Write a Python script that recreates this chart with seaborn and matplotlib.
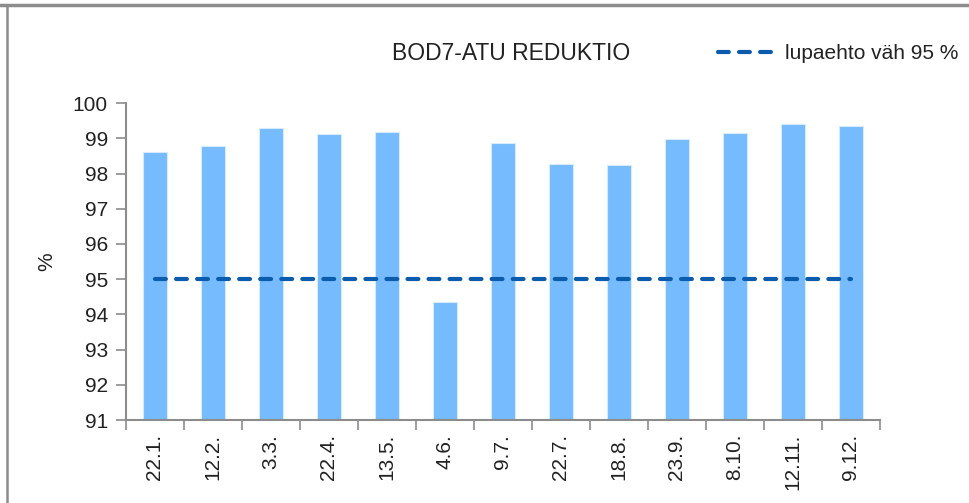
import numpy as np
import pandas as pd
import matplotlib
matplotlib.use("Agg")
import matplotlib.pyplot as plt
from matplotlib.lines import Line2D
import seaborn as sns

# sampling dates and BOD7-ATU reduction (%)
dates = ['22.1.', '12.2.', '3.3.', '22.4.', '13.5.', '4.6.', '9.7.',
         '22.7.', '18.8.', '23.9.', '8.10.', '12.11.', '9.12.']
reduction = [98.6, 98.79, 99.3, 99.12, 99.18, 94.35, 98.88,
             98.27, 98.24, 98.98, 99.14, 99.41, 99.34]
limit = [95] * len(dates)

df = pd.DataFrame({'date': dates, 'reduction': reduction, 'limit': limit})

sns.set_style('white')
plt.rcParams['font.family'] = ['Liberation Sans', 'DejaVu Sans']

fig = plt.figure(figsize=(9.69, 5.03), dpi=100)
ax = fig.add_axes([0.130, 0.165, 0.778, 0.630])

sns.barplot(data=df, x='date', y='reduction', color='#75BBFD', saturation=1,
            width=0.42, edgecolor='#D6EBFF', linewidth=0.8, ax=ax)
ax.plot(np.arange(len(dates)), df['limit'], color='#0B5CAD', lw=3.0,
        dashes=(2.6, 2.45), dash_capstyle='round', solid_capstyle='round')

ax.set_ylim(91, 100)
ax.set_xlim(-0.5, len(dates) - 0.5)
ax.set_yticks(range(91, 101))
ax.set_ylabel('%', fontsize=15, color='#222222', labelpad=12)
ax.set_xlabel('')

# Excel-like ticks between categories
ax.set_xticks(np.arange(len(dates)))
ax.set_xticklabels(dates, rotation=90, fontsize=15, color='#222222')
ax.set_xticks(np.arange(-0.5, len(dates)), minor=True)
ax.tick_params(axis='x', which='major', length=0, pad=10)
ax.tick_params(axis='x', which='minor', length=7, width=1.2, color='#8C8C8C', direction='out')
ax.tick_params(axis='y', length=7, width=1.2, color='#8C8C8C', direction='out',
               labelsize=15, labelcolor='#222222', pad=6)
ax.tick_params(bottom=True, left=True, which='both')

sns.despine(ax=ax)
for s in ['left', 'bottom']:
    ax.spines[s].set_color('#8C8C8C')
    ax.spines[s].set_linewidth(1.5)

fig.text(0.527, 0.893, 'BOD7-ATU REDUKTIO', ha='center', va='center',
         fontsize=16.5, color='#222222')

handle = Line2D([0], [0], color='#0B5CAD', lw=3.0, dashes=(2.6, 2.45),
                dash_capstyle='round')
fig.legend([handle], ['lupaehto väh 95 %'], loc='center left',
           bbox_to_anchor=(0.741, 0.893), frameon=False, fontsize=15,
           handlelength=2.7, handletextpad=0.5, labelcolor='#222222',
           borderpad=0, borderaxespad=0)

# chart frame (top and left edges)
fig.add_artist(Line2D([0, 1], [0.991, 0.991], color='#8C8C8C', lw=2.5,
                      transform=fig.transFigure))
fig.add_artist(Line2D([0.0075, 0.0075], [0, 0.991], color='#8C8C8C', lw=1.8,
                      transform=fig.transFigure))

fig.savefig('out.png', dpi=100)
